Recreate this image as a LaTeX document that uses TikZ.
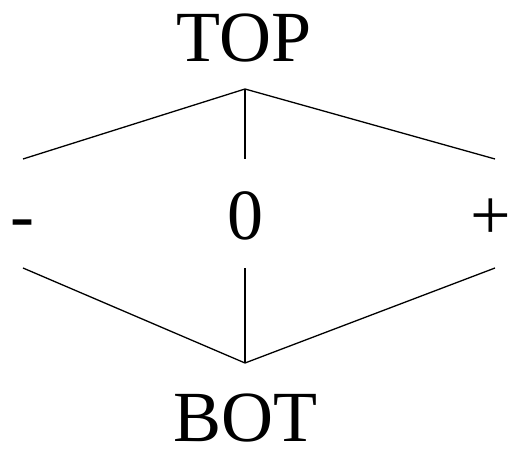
\documentclass[tikz,border=0pt]{standalone}
\usepackage{fontspec}
\setmainfont{Liberation Serif}
\begin{document}
\begin{tikzpicture}[x=1pt,y=1pt,
  lbl/.style={anchor=base,inner sep=0pt,font=\fontsize{72}{80}\selectfont},
  edge/.style={line width=1.3pt}]
\useasboundingbox (0,0) rectangle (510,449);
\node[lbl] (top) at (244,387) {TOP};
\node[lbl] (minus) at (22.5,209) {-};
\node[lbl] (zero) at (245,209) {0};
\node[lbl] (plus) at (491,209) {+};
\node[lbl] (bot) at (245,8) {BOT};
\coordinate (ta) at (245,360);
\coordinate (tl) at (23,290);
\coordinate (tm) at (245,290);
\coordinate (tr) at (495,290);
\coordinate (ba) at (245,86);
\coordinate (bl) at (23,181);
\coordinate (bm) at (245,181);
\coordinate (br) at (495,181);
\draw[edge] (tl) -- (ta) -- (tr);
\draw[edge] (ta) -- (tm);
\draw[edge] (bl) -- (ba) -- (br);
\draw[edge] (ba) -- (bm);
\end{tikzpicture}
\end{document}
